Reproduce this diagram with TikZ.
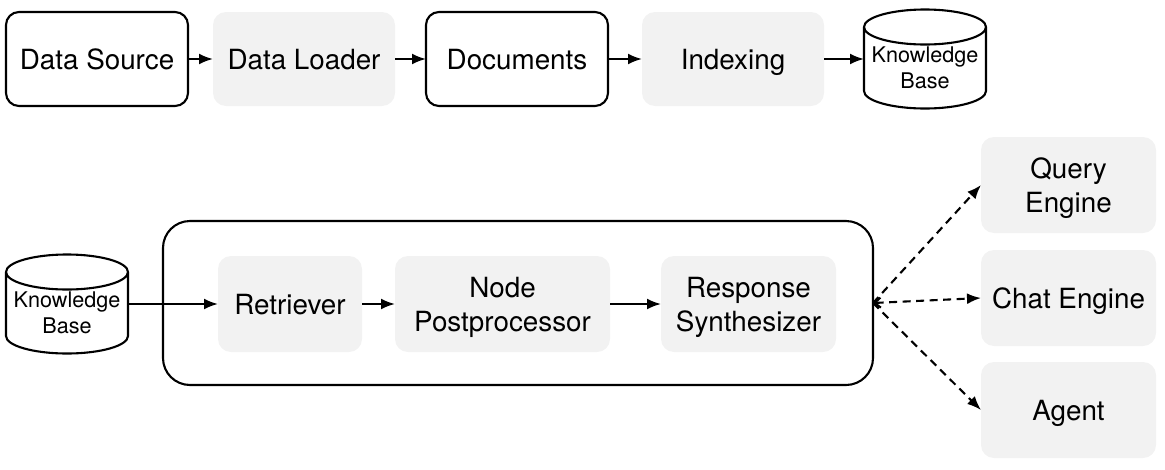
\documentclass[tikz,border=0pt]{standalone}
\usepackage{fontspec}
\setmainfont{TeX Gyre Heros}
\usetikzlibrary{arrows.meta,positioning}
\newcommand\bigstrut{\rule[-7pt]{0pt}{34pt}}
\newcommand\smallstrut{\rule[-5.3pt]{0pt}{26pt}}
\newcommand\bigln[1]{\bigstrut #1}
\newcommand\smallln[1]{\smallstrut #1}
\definecolor{softgray}{HTML}{F2F2F2}
\tikzset{
  x=1pt,y=-1pt,
  base/.style={rectangle,rounded corners=13pt,inner sep=0pt,outer sep=0pt,align=center,
    font=\fontsize{27.8}{34}\selectfont},
  framed/.style={base,draw=black,line width=2.1pt,minimum width=182pt,minimum height=94pt},
  soft/.style={base,fill=softgray,minimum height=96pt},
  wideb/.style={soft,minimum width=182pt,minimum height=94pt},
  side/.style={soft,minimum width=175pt},
  kbshape/.style={inner sep=0pt,outer sep=0pt,minimum width=122pt,minimum height=99pt},
  kbtext/.style={inner sep=0pt,outer sep=0pt,align=center,font=\fontsize{21.6}{26}\selectfont},
  cyl/.style={line width=2.1pt,draw=black,line join=round},
  flow/.style={line width=2.1pt,-{Latex[length=14pt,width=11pt]}},
  dashflow/.style={flow,dash pattern=on 8pt off 5.5pt}
}
\begin{document}
\begin{tikzpicture}
\useasboundingbox (0,0) rectangle (1165,469);
% top row
\node[framed] (ds) at (97,59) {\bigln{Data Source}};
\node[wideb] (dl) at (304,59) {\bigln{Data Loader}};
\node[framed] (doc) at (517,59) {\bigln{Documents}};
\node[wideb] (idx) at (733,59) {\bigln{Indexing}};
\node[kbshape] (kba) at (925,59) {};
\draw[cyl] (kba.west) ++(0,-32) arc[start angle=180,end angle=0,x radius=61,y radius=17.5]
  -- ++(0,64) arc[start angle=0,end angle=180,x radius=61,y radius=17.5] -- cycle;
\draw[cyl] (kba.west) ++(0,-32) arc[start angle=180,end angle=360,x radius=61,y radius=17.5];
\node[kbtext] (kbatext) at (925,68) {\smallln{Knowledge}\\\smallln{Base}};
\draw[flow] (ds.east) -- (dl.west);
\draw[flow] (dl.east) -- (doc.west);
\draw[flow] (doc.east) -- (idx.west);
\draw[flow] (idx.east) -- (kba.west);
% bottom row
\node[base,draw=black,line width=2.1pt,rounded corners=27pt,minimum width=710pt,minimum height=164pt] (big) at (518,303) {};
\node[kbshape] (kbb) at (67,304) {};
\draw[cyl] (kbb.west) ++(0,-32) arc[start angle=180,end angle=0,x radius=61,y radius=17.5]
  -- ++(0,64) arc[start angle=0,end angle=180,x radius=61,y radius=17.5] -- cycle;
\draw[cyl] (kbb.west) ++(0,-32) arc[start angle=180,end angle=360,x radius=61,y radius=17.5];
\node[kbtext] (kbbtext) at (67,313) {\smallln{Knowledge}\\\smallln{Base}};
\node[soft,minimum width=144pt] (ret) at (290,304) {\bigln{Retriever}};
\node[soft,minimum width=215pt] (post) at (502.5,304) {\bigln{Node}\\\bigln{Postprocessor}};
\node[soft,minimum width=175pt] (syn) at (748.5,304) {\bigln{Response}\\\bigln{Synthesizer}};
\draw[flow] (kbb.east) -- (ret.west);
\draw[flow] (ret.east) -- (post.west);
\draw[flow] (post.east) -- (syn.west);
% right column
\node[side] (qe) at (1068.5,185) {\bigln{Query}\\\bigln{Engine}};
\node[side] (ce) at (1068.5,298) {\bigln{Chat Engine}};
\node[side] (ag) at (1068.5,410) {\bigln{Agent}};
\draw[dashflow] (big.east) -- (qe.west);
\draw[dashflow,{Straight Barb[length=6pt,width=10pt]}-{Latex[length=14pt,width=11pt]}] (big.east) -- (ce.west);
\draw[dashflow] (big.east) -- (ag.west);
\end{tikzpicture}
\end{document}
